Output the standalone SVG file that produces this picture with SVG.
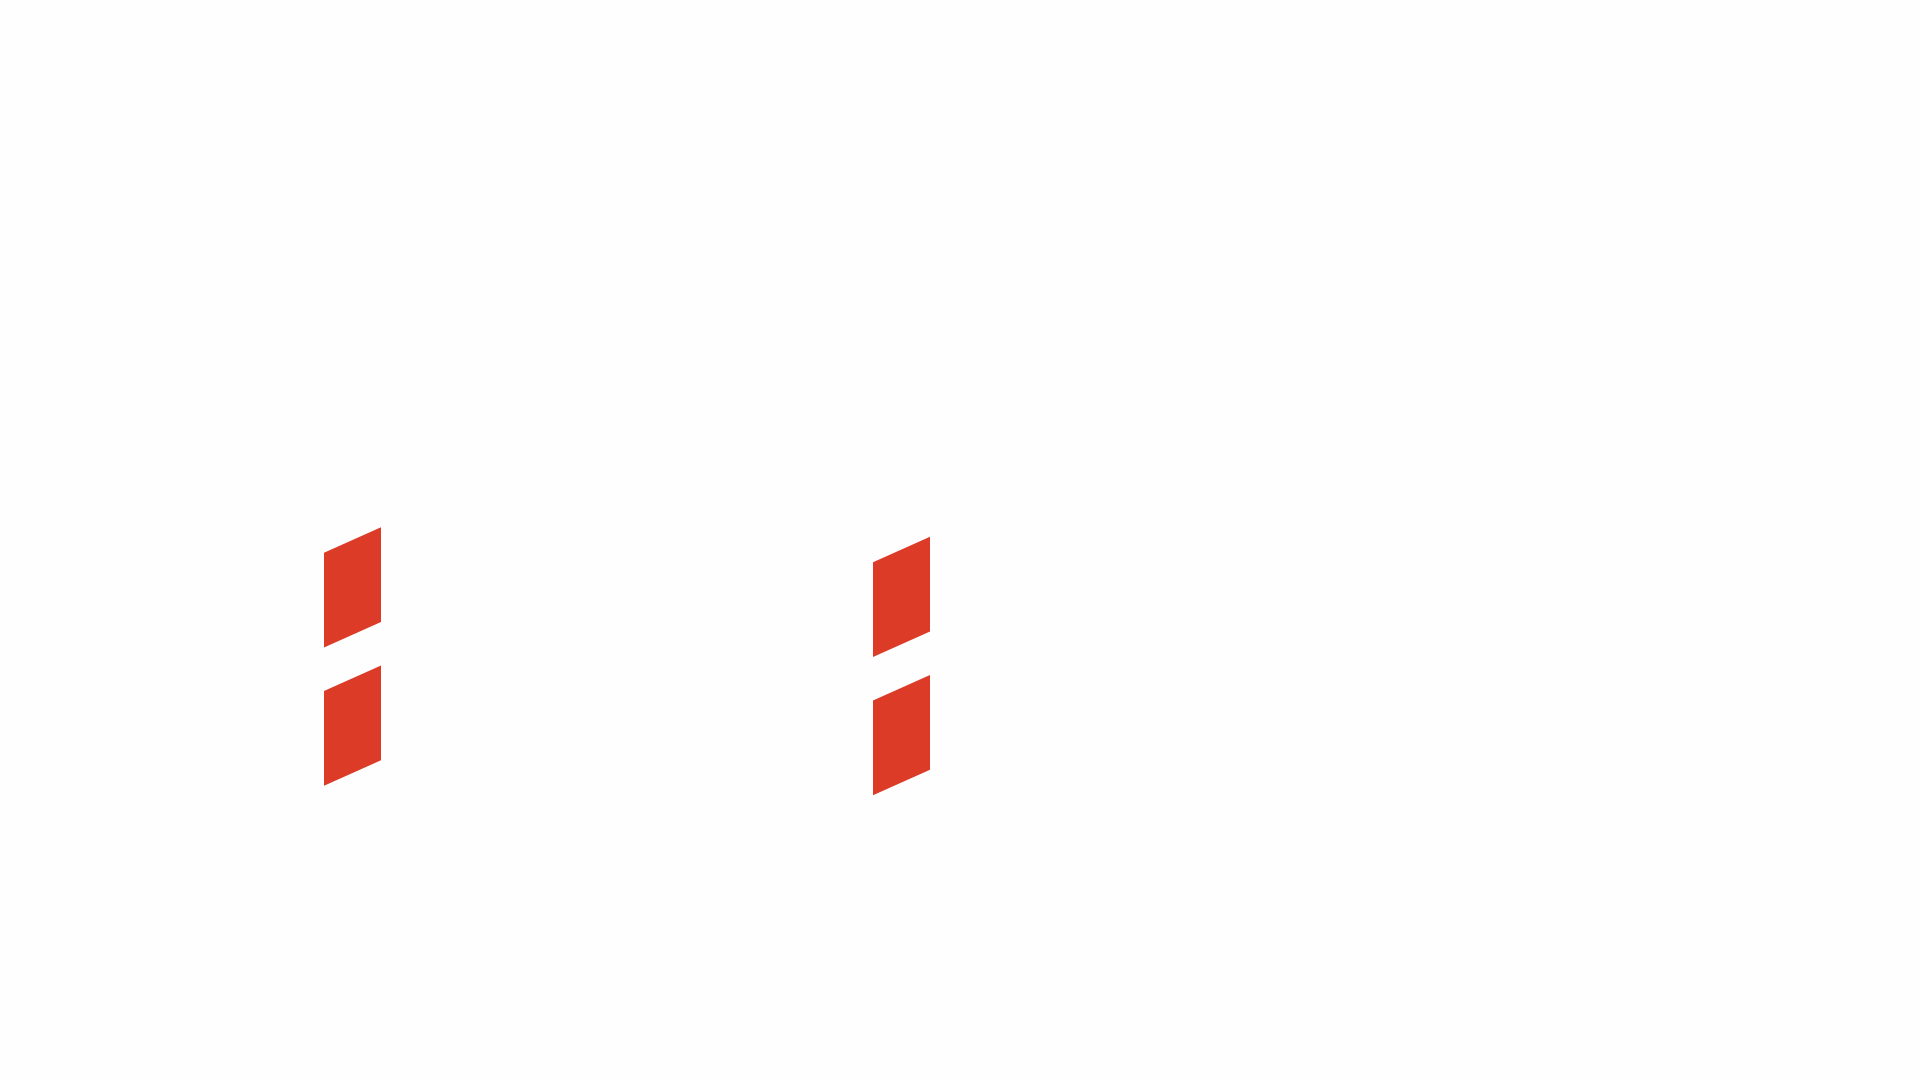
<svg xmlns="http://www.w3.org/2000/svg" width="1920" height="1080" viewBox="0 0 1920 1080">
  <style>
    .bg { fill: #fefefe; }
    .panel { fill: #db3b27; }
  </style>
  <rect class="bg" x="0" y="0" width="1920" height="1080"/>
  <g id="pair-left">
    <polygon class="panel" points="324,552.7 381,527.2 381,622 324,647.5"/>
    <polygon class="panel" points="324,691 381,665.5 381,760.3 324,785.8"/>
  </g>
  <g id="pair-right">
    <polygon class="panel" points="873,562.3 930,536.8 930,631.6 873,657"/>
    <polygon class="panel" points="873,700.5 930,675 930,769.8 873,795.2"/>
  </g>
</svg>
